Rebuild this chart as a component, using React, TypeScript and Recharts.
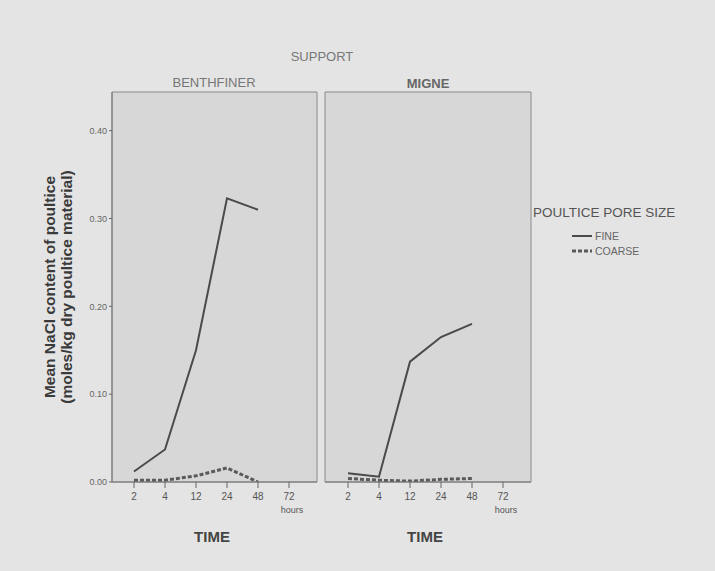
/* eslint-disable */
import { LineChart, Line, XAxis, YAxis, CartesianGrid } from "recharts";

const times = ["2", "4", "12", "24", "48", "72"];
const benthFine = [0.012, 0.037, 0.15, 0.323, 0.31, null];
const benthCoarse = [0.002, 0.002, 0.007, 0.016, 0.0, null];
const migneFine = [0.01, 0.006, 0.137, 0.165, 0.18, null];
const migneCoarse = [0.004, 0.002, 0.001, 0.003, 0.004, null];
const yTicks = [0, 0.1, 0.2, 0.3, 0.4];

const build = (fine: (number | null)[], coarse: (number | null)[]) =>
  times.map((t, i) => ({ time: t, fine: fine[i], coarse: coarse[i] }));

const benthData = build(benthFine, benthCoarse);
const migneData = build(migneFine, migneCoarse);

const FONT = "'Liberation Sans', Arial, sans-serif";
const PANEL = "#d7d7d7";
const BORDER = "#8a8a8a";
const LINE = "#4a4a4a";
const YMAX = 0.444;

// grid lines only on the panel edges, so the grid acts as the frame
const edgesY = ({ offset }: any) => [offset.top, offset.top + offset.height];
const edgesX = ({ offset }: any) => [offset.left, offset.left + offset.width];

const TimeTick = (props: any) => {
  const { x, y, payload } = props;
  return (
    <g>
      <text x={x} y={y + 10} textAnchor="middle" fontSize={10} fill="#555" fontFamily={FONT}>
        {payload.value}
      </text>
      {payload.value === "72" && (
        <text x={x + 3} y={y + 23} textAnchor="middle" fontSize={9} fill="#555" fontFamily={FONT}>
          hours
        </text>
      )}
    </g>
  );
};

function Panel({ data, showY, width, left, padL, padR }: any) {
  return (
    <div style={{ position: "absolute", left, top: 0 }}>
      <LineChart
        width={width}
        height={571}
        data={data}
        margin={{ top: 92, right: showY ? 13 : 9, bottom: 59, left: showY ? 0 : 5 }}
      >
        <CartesianGrid
          fill={PANEL}
          stroke={BORDER}
          horizontalCoordinatesGenerator={edgesY}
          verticalCoordinatesGenerator={edgesX}
        />
        <XAxis
          dataKey="time"
          type="category"
          height={30}
          padding={{ left: padL, right: padR }}
          stroke="#777"
          tickLine={{ stroke: "#666" }}
          tickSize={6}
          tick={<TimeTick />}
          interval={0}
        />
        <YAxis
          domain={[0, YMAX]}
          ticks={yTicks}
          width={showY ? 52 : 0}
          tick={showY ? { fontSize: 9, fill: "#666", fontFamily: FONT } : false}
          tickLine={showY ? { stroke: "#666" } : false}
          tickSize={3}
          tickFormatter={(v: number) => v.toFixed(2)}
          stroke="#777"
          allowDataOverflow
        />
        <Line dataKey="fine" stroke={LINE} strokeWidth={2} dot={false} isAnimationActive={false} />
        <Line dataKey="coarse" stroke="#5a5a5a" strokeWidth={3} strokeDasharray="4 2" dot={false} isAnimationActive={false} />
      </LineChart>
    </div>
  );
}

export default function App() {
  const txt: any = { position: "absolute", fontFamily: FONT, whiteSpace: "nowrap" };
  return (
    <div style={{ position: "absolute", left: 0, top: 0, width: 715, height: 571, background: "#e4e4e4", overflow: "hidden" }}>
      <Panel data={benthData} showY width={270} left={60} padL={22} padR={28} />
      <Panel data={migneData} showY={false} width={220} left={320} padL={23} padR={28} />

      <div style={{ ...txt, left: 322, top: 49, transform: "translateX(-50%)", fontSize: 13, color: "#777" }}>SUPPORT</div>
      <div style={{ ...txt, left: 214, top: 75, transform: "translateX(-50%)", fontSize: 13, color: "#777" }}>BENTHFINER</div>
      <div style={{ ...txt, left: 428, top: 76, transform: "translateX(-50%)", fontSize: 13, fontWeight: "bold", color: "#666" }}>MIGNE</div>

      <div style={{ ...txt, left: 212, top: 528, transform: "translateX(-50%)", fontSize: 15, fontWeight: "bold", color: "#444" }}>TIME</div>
      <div style={{ ...txt, left: 425, top: 528, transform: "translateX(-50%)", fontSize: 15, fontWeight: "bold", color: "#444" }}>TIME</div>

      <div
        style={{
          ...txt,
          left: 58,
          top: 287,
          transform: "translate(-50%, -50%) rotate(-90deg)",
          fontSize: 15.5,
          fontWeight: "bold",
          color: "#3a3a3a",
          textAlign: "center",
          lineHeight: "17px",
        }}
      >
        Mean NaCl content of poultice
        <br />
        (moles/kg dry poultice material)
      </div>

      <div style={{ ...txt, left: 533, top: 205, fontSize: 13.5, color: "#555" }}>POULTICE PORE SIZE</div>
      <div style={{ ...txt, left: 572, top: 230, fontSize: 10.5, color: "#666", display: "flex", alignItems: "center" }}>
        <svg width={20} height={6} style={{ marginRight: 3 }}>
          <line x1={0} y1={3} x2={20} y2={3} stroke={LINE} strokeWidth={2} />
        </svg>
        FINE
      </div>
      <div style={{ ...txt, left: 572, top: 245, fontSize: 10.5, color: "#666", display: "flex", alignItems: "center" }}>
        <svg width={20} height={6} style={{ marginRight: 3 }}>
          <line x1={0} y1={3} x2={20} y2={3} stroke="#5a5a5a" strokeWidth={3} strokeDasharray="4 2" />
        </svg>
        COARSE
      </div>
    </div>
  );
}
